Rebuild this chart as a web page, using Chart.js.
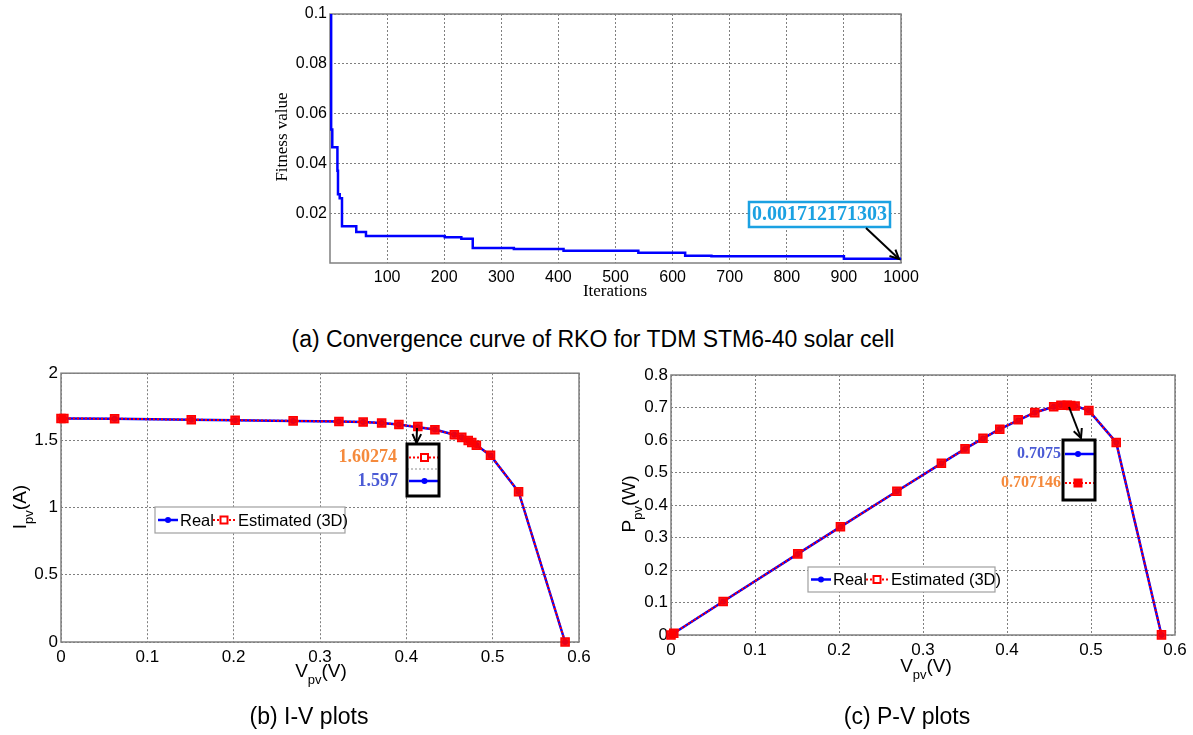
<!DOCTYPE html>
<html>
<head>
<meta charset="UTF-8">
<title>RKO convergence, I-V and P-V plots</title>
<script src="https://cdn.jsdelivr.net/npm/chart.js"></script>
<style>
  body { margin: 0; background: #fff; width: 1193px; height: 735px; position: relative; overflow: hidden; }
  .box { position: absolute; }
  .cap { position: absolute; font-family: "Liberation Sans", Arial, sans-serif; font-size: 23px; color: #000; transform: translateX(-50%); white-space: nowrap; }
</style>
</head>
<body>
<div class="box" style="left:230px;top:0;width:700px;height:310px"><canvas id="conv"></canvas></div>
<div class="cap" style="left:593px;top:326px">(a) Convergence curve of RKO for TDM STM6-40 solar cell</div>
<div class="box" style="left:0;top:360px;width:600px;height:345px"><canvas id="iv"></canvas></div>
<div class="box" style="left:600px;top:360px;width:593px;height:345px"><canvas id="pv"></canvas></div>
<div class="cap" style="left:309px;top:703px">(b) I-V plots</div>
<div class="cap" style="left:907px;top:703px">(c) P-V plots</div>
<script>
// convergence curve (step changes)
const iterations = [1, 2, 4, 13, 14, 17, 21, 46, 63, 201, 230, 250, 322, 409, 540, 622, 668, 900, 1000];
const fitness = [0.1, 0.0536, 0.0465, 0.037, 0.0276, 0.026, 0.0148, 0.0124, 0.0108, 0.0103, 0.0097, 0.006, 0.0056, 0.0049, 0.0041, 0.0029, 0.0027, 0.00171, 0.001712];
const iterTicks = [100, 200, 300, 400, 500, 600, 700, 800, 900, 1000];
const fitTicks = [0.02, 0.04, 0.06, 0.08, 0.1];

// I-V / P-V data
const vpv = [0, 0.0033, 0.0621, 0.1509, 0.2017, 0.2689, 0.3219, 0.35, 0.3714, 0.3914, 0.4133, 0.4331, 0.4556, 0.4642, 0.4717, 0.4758, 0.4811, 0.4975, 0.53, 0.5839];
const ipvReal = [1.663, 1.663, 1.661, 1.653, 1.65, 1.645, 1.64, 1.636, 1.629, 1.619, 1.597, 1.581, 1.542, 1.524, 1.5, 1.485, 1.465, 1.388, 1.118, 0];
const ipvEst = [1.6632, 1.6631, 1.6612, 1.6537, 1.6502, 1.6452, 1.6408, 1.6364, 1.6296, 1.6177, 1.60274, 1.5797, 1.5418, 1.5227, 1.49915, 1.4846, 1.4646, 1.389, 1.1174, 0.0005];
const ppvReal = [0, 0.0055, 0.1032, 0.2495, 0.3328, 0.4423, 0.528, 0.5726, 0.605, 0.6337, 0.6601, 0.6847, 0.7025, 0.7074, 0.7075, 0.7066, 0.7048, 0.6905, 0.5925, 0];
const ppvEst = [0, 0.0055, 0.1032, 0.2496, 0.3328, 0.4424, 0.5282, 0.5727, 0.6052, 0.6332, 0.6624, 0.6842, 0.7024, 0.7068, 0.707146, 0.7064, 0.7046, 0.691, 0.5922, 0.0003];
const vTicks = [0, 0.1, 0.2, 0.3, 0.4, 0.5, 0.6];
const iTicks = [0, 0.5, 1, 1.5, 2];
const pTicks = [0, 0.1, 0.2, 0.3, 0.4, 0.5, 0.6, 0.7, 0.8];

const SANS = '"Liberation Sans", Arial, sans-serif';
const SERIF = '"Liberation Serif", "Times New Roman", serif';
const BLUE = '#0000ff', RED = '#ff0000';

function pts(xs, ys) { return xs.map((x, i) => ({ x: x, y: ys[i] })); }

function arrow(ctx, x1, y1, x2, y2) {
  ctx.save();
  ctx.strokeStyle = '#000'; ctx.lineWidth = 2;
  ctx.beginPath(); ctx.moveTo(x1, y1); ctx.lineTo(x2, y2); ctx.stroke();
  const a = Math.atan2(y2 - y1, x2 - x1), L = 10;
  ctx.beginPath();
  ctx.moveTo(x2 - L * Math.cos(a - 0.45), y2 - L * Math.sin(a - 0.45));
  ctx.lineTo(x2, y2);
  ctx.lineTo(x2 - L * Math.cos(a + 0.45), y2 - L * Math.sin(a + 0.45));
  ctx.stroke();
  ctx.restore();
}

function subTitle(ctx, cx, cy, main, sub, tail, rot) {
  ctx.save();
  ctx.translate(cx, cy);
  if (rot) ctx.rotate(-Math.PI / 2);
  const big = '19px ' + SANS, small = '13px ' + SANS;
  ctx.font = big; const w1 = ctx.measureText(main).width, w3 = ctx.measureText(tail).width;
  ctx.font = small; const w2 = ctx.measureText(sub).width;
  let x = -(w1 + w2 + w3) / 2;
  ctx.fillStyle = '#000'; ctx.textBaseline = 'middle'; ctx.textAlign = 'left';
  ctx.font = big; ctx.fillText(main, x, 0); x += w1;
  ctx.font = small; ctx.fillText(sub, x, 8); x += w2;
  ctx.font = big; ctx.fillText(tail, x, 0);
  ctx.restore();
}

function blueSample(ctx, x1, x2, y, dotX) {
  ctx.save();
  ctx.strokeStyle = BLUE; ctx.lineWidth = 2.5; ctx.setLineDash([]);
  ctx.beginPath(); ctx.moveTo(x1, y); ctx.lineTo(x2, y); ctx.stroke();
  ctx.fillStyle = BLUE; ctx.beginPath(); ctx.arc(dotX, y, 3, 0, Math.PI * 2); ctx.fill();
  ctx.restore();
}
function redSample(ctx, x1, x2, y, sqX, filled) {
  ctx.save();
  ctx.strokeStyle = RED; ctx.lineWidth = 2; ctx.setLineDash([2, 2]);
  ctx.beginPath(); ctx.moveTo(x1, y); ctx.lineTo(x2, y); ctx.stroke();
  ctx.setLineDash([]);
  ctx.fillStyle = filled ? RED : '#fff';
  ctx.fillRect(sqX - 3.5, y - 3.5, 7, 7);
  ctx.lineWidth = 2; ctx.strokeRect(sqX - 3.5, y - 3.5, 7, 7);
  ctx.restore();
}

function legend(ctx, bx, by, bw, bh) {
  ctx.save();
  ctx.fillStyle = '#fff'; ctx.fillRect(bx, by, bw, bh);
  ctx.strokeStyle = '#a0a0a0'; ctx.lineWidth = 1.2; ctx.strokeRect(bx, by, bw, bh);
  const y = by + bh / 2;
  blueSample(ctx, bx + 3, bx + 23, y, bx + 13);
  redSample(ctx, bx + 58, bx + 80, y, bx + 69, false);
  ctx.fillStyle = '#000'; ctx.font = '16.5px ' + SANS; ctx.textBaseline = 'middle'; ctx.textAlign = 'left';
  ctx.fillText('Real', bx + 25, y + 1);
  ctx.fillText('Estimated (3D)', bx + 83, y + 1);
  ctx.restore();
}

function valueText(ctx, txt, x, y, color, size) {
  ctx.save();
  ctx.font = 'bold ' + size + 'px ' + SERIF; ctx.fillStyle = color;
  ctx.textAlign = 'right'; ctx.textBaseline = 'middle';
  ctx.fillText(txt, x, y);
  ctx.restore();
}

const framePlugin = {
  id: 'frame',
  beforeDatasetsDraw(chart) {
    const ca = chart.chartArea, ctx = chart.ctx;
    ctx.save();
    ctx.strokeStyle = '#808080'; ctx.lineWidth = 1.5;
    ctx.strokeRect(ca.left, ca.top, ca.right - ca.left, ca.bottom - ca.top);
    ctx.restore();
  }
};

function linScale(min, max, ticks, fit, pad, fontSize) {
  return {
    type: 'linear', min: min, max: max,
    afterBuildTicks: s => { s.ticks = ticks.map(v => ({ value: v })); },
    afterFit: fit,
    grid: { color: '#7f7f7f', lineWidth: 1, drawTicks: false },
    border: { display: false, dash: [2, 2] },
    ticks: { color: '#000', font: { family: SANS, size: fontSize }, padding: pad, maxRotation: 0, autoSkip: false, callback: v => String(v) }
  };
}

// (a) convergence
new Chart(document.getElementById('conv'), {
  type: 'line',
  data: { datasets: [{ data: pts(iterations, fitness), borderColor: BLUE, borderWidth: 2.5, stepped: 'before', pointRadius: 0, fill: false }] },
  options: {
    responsive: true, maintainAspectRatio: false, animation: false,
    layout: { padding: { top: 14, right: 29, left: 0, bottom: 0 }, autoPadding: false },
    plugins: { legend: { display: false }, tooltip: { enabled: false } },
    scales: {
      x: linScale(0, 1000, iterTicks, s => { s.height = 47; }, 5, 16),
      y: linScale(0, 0.1, fitTicks, s => { s.width = 100; }, 3, 16)
    }
  },
  plugins: [framePlugin, {
    id: 'convExtras',
    afterDraw(chart) {
      const ctx = chart.ctx;
      ctx.save();
      ctx.fillStyle = '#000'; ctx.font = '17px ' + SERIF; ctx.textAlign = 'center'; ctx.textBaseline = 'middle';
      ctx.fillText('Iterations', 385, 292);
      ctx.translate(53, 137); ctx.rotate(-Math.PI / 2); ctx.fillText('Fitness value', 0, 0);
      ctx.restore();
      ctx.save();
      ctx.fillStyle = '#fff'; ctx.fillRect(519, 202, 141, 25);
      ctx.strokeStyle = '#1ba1e2'; ctx.lineWidth = 2.5; ctx.strokeRect(519, 202, 141, 25);
      ctx.font = 'bold 20px ' + SERIF; ctx.fillStyle = '#1ba1e2'; ctx.textAlign = 'center'; ctx.textBaseline = 'middle';
      ctx.fillText('0.001712171303', 589.5, 215);
      ctx.restore();
      arrow(ctx, 636, 228, 669, 259);
    }
  }]
});

function pairSets(ys1, ys2) {
  return [
    { label: 'Real', data: pts(vpv, ys1), borderColor: BLUE, backgroundColor: BLUE, borderWidth: 2.5, pointRadius: 3, pointStyle: 'circle', pointBorderWidth: 0, tension: 0, clip: false, order: 2 },
    { label: 'Estimated (3D)', data: pts(vpv, ys2), borderColor: RED, backgroundColor: 'rgba(255,0,0,0.9)', borderWidth: 2, borderDash: [2, 2], pointRadius: 5.7, pointStyle: 'rect', pointBorderWidth: 1.5, tension: 0, clip: false, order: 1 }
  ];
}

// (b) I-V
new Chart(document.getElementById('iv'), {
  type: 'line',
  data: { datasets: pairSets(ipvReal, ipvEst) },
  options: {
    responsive: true, maintainAspectRatio: false, animation: false,
    layout: { padding: { top: 13, right: 21, left: 0, bottom: 0 }, autoPadding: false },
    plugins: { legend: { display: false }, tooltip: { enabled: false } },
    scales: {
      x: linScale(0, 0.6, vTicks, s => { s.height = 63; }, 5, 17),
      y: linScale(0, 2, iTicks, s => { s.width = 61; }, 3, 17)
    }
  },
  plugins: [framePlugin, {
    id: 'ivExtras',
    afterDraw(chart) {
      const ctx = chart.ctx;
      subTitle(ctx, 21, 147, 'I', 'pv', '(A)', true);
      subTitle(ctx, 321, 312, 'V', 'pv', '(V)', false);
      legend(ctx, 155, 147, 190, 26);
      arrow(ctx, 417, 68, 416.5, 83);
      ctx.save();
      ctx.fillStyle = '#fff'; ctx.fillRect(407, 84, 32, 52);
      ctx.strokeStyle = '#8c8c8c'; ctx.lineWidth = 1; ctx.setLineDash([2, 2]);
      ctx.beginPath(); ctx.moveTo(407, 109); ctx.lineTo(439, 109); ctx.stroke();
      ctx.restore();
      redSample(ctx, 409, 438, 97.5, 424.5, false);
      blueSample(ctx, 409, 438, 121, 424.5);
      ctx.save();
      ctx.strokeStyle = '#000'; ctx.lineWidth = 3; ctx.strokeRect(407, 84, 32, 52);
      ctx.restore();
      valueText(ctx, '1.60274', 397, 97.5, '#f58a3c', 18);
      valueText(ctx, '1.597', 398, 121, '#4b5bd5', 18);
    }
  }]
});

// (c) P-V
new Chart(document.getElementById('pv'), {
  type: 'line',
  data: { datasets: pairSets(ppvReal, ppvEst) },
  options: {
    responsive: true, maintainAspectRatio: false, animation: false,
    layout: { padding: { top: 15, right: 18, left: 0, bottom: 0 }, autoPadding: false },
    plugins: { legend: { display: false }, tooltip: { enabled: false } },
    scales: {
      x: linScale(0, 0.6, vTicks, s => { s.height = 70; }, 5, 17),
      y: linScale(0, 0.8, pTicks, s => { s.width = 71; }, 3, 17)
    }
  },
  plugins: [framePlugin, {
    id: 'pvExtras',
    afterDraw(chart) {
      const ctx = chart.ctx;
      subTitle(ctx, 30, 144, 'P', 'pv', '(W)', true);
      subTitle(ctx, 326, 307, 'V', 'pv', '(V)', false);
      legend(ctx, 208, 207, 187, 25);
      arrow(ctx, 469, 47, 481, 78);
      ctx.save();
      ctx.fillStyle = '#fff'; ctx.fillRect(463, 80, 32, 60);
      ctx.restore();
      blueSample(ctx, 465, 494, 94, 478);
      redSample(ctx, 465, 494, 123, 478, true);
      ctx.save();
      ctx.strokeStyle = '#000'; ctx.lineWidth = 3; ctx.strokeRect(463, 80, 32, 60);
      ctx.restore();
      valueText(ctx, '0.7075', 461, 94, '#4b5bd5', 16);
      valueText(ctx, '0.707146', 461, 123, '#f58a3c', 16);
    }
  }]
});
</script>
</body>
</html>
